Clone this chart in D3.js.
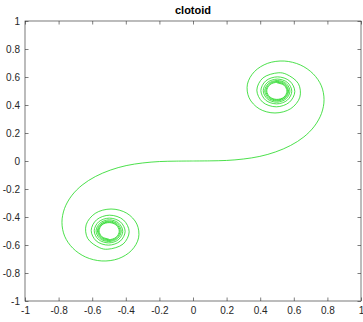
<!DOCTYPE html>
<html>
<head>
<meta charset="utf-8">
<script src="https://cdn.jsdelivr.net/npm/d3@7"></script>
<style>
  body { margin: 0; background: #fff; }
  #chart { width: 363px; height: 322px; }
  .axis text { font-family: "Liberation Sans", Arial, sans-serif; font-size: 10px; fill: #262626; }
  .axis line { stroke: #262626; stroke-width: 0.6; }
  .axis path { display: none; }
</style>
</head>
<body>
<div id="chart"></div>
<script>
// chart values
const chartTitle = 'clotoid';
const xTicks = [-1, -0.8, -0.6, -0.4, -0.2, 0, 0.2, 0.4, 0.6, 0.8, 1];
const yTicks = [-1, -0.8, -0.6, -0.4, -0.2, 0, 0.2, 0.4, 0.6, 0.8, 1];

// upper arm, from the origin out to the spiral around (0.5, 0.5)
const upperX = [0, 0.100, 0.200, 0.299, 0.398, 0.492, 0.581, 0.660, 0.723, 0.765, 0.780,
  0.764, 0.715, 0.639, 0.543, 0.445, 0.366, 0.324, 0.334, 0.394, 0.488,
  0.582, 0.636, 0.627, 0.555, 0.507, 0.416, 0.380, 0.414, 0.496, 0.574,
  0.606, 0.576, 0.503, 0.433, 0.404, 0.432, 0.498, 0.562, 0.588, 0.563,
  0.502, 0.442, 0.418, 0.442, 0.498, 0.554, 0.577, 0.555, 0.501, 0.449,
  0.427, 0.448, 0.499, 0.549, 0.569, 0.549, 0.501, 0.453, 0.434, 0.453,
  0.499, 0.545, 0.564, 0.545, 0.501, 0.457, 0.439, 0.457, 0.499, 0.542,
  0.559, 0.542, 0.501];
const upperY = [0, 0.001, 0.004, 0.014, 0.033, 0.065, 0.111, 0.172, 0.249, 0.340, 0.438,
  0.537, 0.623, 0.686, 0.714, 0.698, 0.639, 0.549, 0.451, 0.373, 0.343,
  0.374, 0.456, 0.553, 0.620, 0.630, 0.593, 0.506, 0.421, 0.387, 0.420,
  0.496, 0.571, 0.601, 0.572, 0.503, 0.435, 0.408, 0.435, 0.498, 0.560,
  0.585, 0.560, 0.502, 0.444, 0.420, 0.444, 0.499, 0.553, 0.575, 0.553,
  0.501, 0.450, 0.429, 0.450, 0.499, 0.548, 0.568, 0.548, 0.501, 0.454,
  0.435, 0.454, 0.499, 0.544, 0.562, 0.544, 0.501, 0.458, 0.440, 0.457,
  0.499, 0.541, 0.558];

// lower arm, from the origin out to the spiral around (-0.5, -0.5)
const lowerX = [0, -0.100, -0.200, -0.299, -0.398, -0.492, -0.581, -0.660, -0.723, -0.765, -0.780,
  -0.764, -0.715, -0.639, -0.543, -0.445, -0.366, -0.324, -0.334, -0.394, -0.488,
  -0.582, -0.636, -0.627, -0.555, -0.507, -0.416, -0.380, -0.414, -0.496, -0.574,
  -0.606, -0.576, -0.503, -0.433, -0.404, -0.432, -0.498, -0.562, -0.588, -0.563,
  -0.502, -0.442, -0.418, -0.442, -0.498, -0.554, -0.577, -0.555, -0.501, -0.449,
  -0.427, -0.448, -0.499, -0.549, -0.569, -0.549, -0.501, -0.453, -0.434, -0.453,
  -0.499, -0.545, -0.564, -0.545, -0.501, -0.457, -0.439, -0.457, -0.499, -0.542,
  -0.559, -0.542, -0.501];
const lowerY = [0, -0.001, -0.004, -0.014, -0.033, -0.065, -0.111, -0.172, -0.249, -0.340, -0.438,
  -0.537, -0.623, -0.686, -0.714, -0.698, -0.639, -0.549, -0.451, -0.373, -0.343,
  -0.374, -0.456, -0.553, -0.620, -0.630, -0.593, -0.506, -0.421, -0.387, -0.420,
  -0.496, -0.571, -0.601, -0.572, -0.503, -0.435, -0.408, -0.435, -0.498, -0.560,
  -0.585, -0.560, -0.502, -0.444, -0.420, -0.444, -0.499, -0.553, -0.575, -0.553,
  -0.501, -0.450, -0.429, -0.450, -0.499, -0.548, -0.568, -0.548, -0.501, -0.454,
  -0.435, -0.454, -0.499, -0.544, -0.562, -0.544, -0.501, -0.458, -0.440, -0.457,
  -0.499, -0.541, -0.558];

const width = 363, height = 322;
const margin = { top: 21, right: 2, bottom: 21, left: 25 };
const plotW = width - margin.left - margin.right;
const plotH = height - margin.top - margin.bottom;

const svg = d3.select('#chart').append('svg')
  .attr('width', width).attr('height', height);

const x = d3.scaleLinear().domain([-1, 1]).range([0, plotW]);
const y = d3.scaleLinear().domain([-1, 1]).range([plotH, 0]);

const g = svg.append('g').attr('transform', `translate(${margin.left},${margin.top})`);

// ticks point inward on all four sides (matlab box style)
const fmt = d => String(d);
g.append('g').attr('class', 'axis').attr('transform', `translate(0,${plotH})`)
  .call(d3.axisBottom(x).tickValues(xTicks).tickFormat(fmt).tickSizeInner(-3.5).tickSizeOuter(0).tickPadding(6));
g.append('g').attr('class', 'axis')
  .call(d3.axisTop(x).tickValues(xTicks).tickFormat('').tickSizeInner(-3.5).tickSizeOuter(0));
g.append('g').attr('class', 'axis')
  .call(d3.axisLeft(y).tickValues(yTicks).tickFormat(fmt).tickSizeInner(-3.5).tickSizeOuter(0).tickPadding(5));
g.append('g').attr('class', 'axis').attr('transform', `translate(${plotW},0)`)
  .call(d3.axisRight(y).tickValues(yTicks).tickFormat('').tickSizeInner(-3.5).tickSizeOuter(0));

g.append('rect')
  .attr('x', 0).attr('y', 0).attr('width', plotW).attr('height', plotH)
  .attr('fill', 'none').attr('stroke', '#404040').attr('stroke-width', 0.7);

const line = d3.line()
  .x(d => x(d[0])).y(d => y(d[1]))
  .curve(d3.curveCatmullRom.alpha(0.5));

const arms = [d3.zip(upperX, upperY), d3.zip(lowerX, lowerY)];
g.selectAll('path.arm').data(arms).enter().append('path')
  .attr('class', 'arm')
  .attr('d', line)
  .attr('fill', 'none')
  .attr('stroke', '#1ed81e')
  .attr('stroke-width', 0.8);

svg.append('text')
  .attr('x', margin.left + plotW / 2).attr('y', 14)
  .attr('text-anchor', 'middle')
  .style('font-family', '"Liberation Sans", Arial, sans-serif')
  .style('font-size', '11px').style('font-weight', 'bold').style('fill', '#000')
  .text(chartTitle);
</script>
</body>
</html>
